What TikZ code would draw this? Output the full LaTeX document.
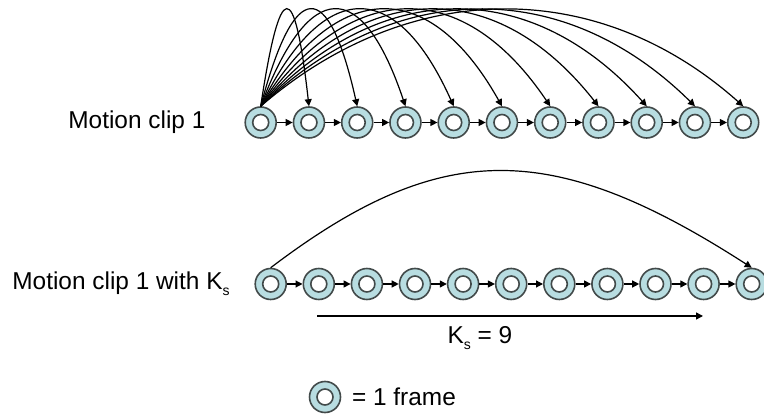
\documentclass[tikz,border=0pt]{standalone}
\usepackage{fontspec}
\setmainfont{Liberation Sans}
\usetikzlibrary{arrows.meta, positioning, calc}
\definecolor{framefill}{HTML}{B8DDE1}
\definecolor{framedraw}{HTML}{424A4A}
\newcommand{\subs}{\raisebox{-0.45ex}{\fontsize{7}{8}\selectfont s}}

\tikzset{
  clipframe/.style={circle, draw=framedraw, line width=0.8pt, fill=framefill,
    minimum size=15.5pt, inner sep=0pt,
    path picture={\draw[framedraw, line width=0.8pt, fill=white]
      (path picture bounding box.center) circle (4pt);}},
  link/.style={-{Triangle[length=3.5pt, width=3.5pt]}, line width=0.6pt},
  cliplabel/.style={font=\fontsize{12.2}{15}\selectfont, inner sep=0pt},
}

\begin{document}
\begin{tikzpicture}[x=0.5pt, y=0.5pt]
  \useasboundingbox (0,0) rectangle (764,417);
  % frames of the two clips
  \foreach \i in {1,...,11} {
    \node[clipframe] (t\i) at ({260.7+(\i-1)*48.25}, 294.5) {};
    \node[clipframe] (b\i) at ({270.7+(\i-1)*48.1}, 133) {};
  }
  \foreach \i [evaluate=\i as \n using int(\i+1)] in {1,...,10} {
    \draw[link] (t\i) -- (t\n);
    \draw[link] (b\i) -- (b\n);
  }
  % labels
  \node[cliplabel, anchor=west] (toplabel) at (68,294.5) {Motion clip 1};
  \node[cliplabel, anchor=west] (botlabel) at (12,133) {Motion clip 1 with K\subs};
  % transitions from the first frame
  \foreach \j in {2,...,11} {
    \pgfmathsetmacro{\d}{(\j-1)*48.25}
    \draw[link] (t1.north) .. controls ($(t1.north)+(0.3*\d+5,129)$)
      and ($(t\j.north)+(-0.3*\d,129)$) .. (t\j.north);
  }
  \draw[link] (b1.north) .. controls ($(b1.north)+(170,129)$)
    and ($(b11.north)+(-200,129)$) .. (b11.north);
  % K_s span
  \coordinate (ksa) at (317,101);
  \coordinate (ksb) at (703,101);
  \draw[link, line width=0.7pt] (ksa) -- (ksb);
  \node[cliplabel] (kslabel) at (480,79) {K\subs\ = 9};
  % legend
  \node[clipframe] (legend) at (325,20) {};
  \node[cliplabel, inner sep=4.2pt, right=1pt of legend] (legendtext) {= 1 frame};
\end{tikzpicture}
\end{document}
